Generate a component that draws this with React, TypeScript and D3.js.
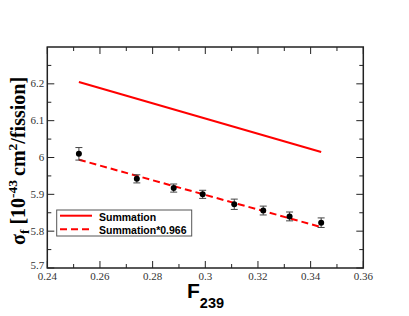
import React from "react";
import * as d3 from "d3";

const fractions = [0.252, 0.274, 0.288, 0.299, 0.311, 0.322, 0.332, 0.344];
const measured = [6.01, 5.942, 5.917, 5.9, 5.873, 5.856, 5.84, 5.823];
const errors = [0.017, 0.011, 0.011, 0.011, 0.014, 0.012, 0.012, 0.013];

const lineX = [0.252, 0.344];
const summation = [6.205, 6.015];
const summationScaled = [5.994, 5.811];

const xTicks = [0.24, 0.26, 0.28, 0.3, 0.32, 0.34, 0.36];
const xMinor = [0.25, 0.27, 0.29, 0.31, 0.33, 0.35];
const yTicks = [5.7, 5.8, 5.9, 6.0, 6.1, 6.2];
const yMinor = [5.75, 5.85, 5.95, 6.05, 6.15, 6.25];

const W = 409;
const H = 316;
const L = 47.3, R = 363.3, T = 47, B = 268;

export default function App() {
  const x = d3.scaleLinear().domain([0.24, 0.36]).range([L, R]);
  const y = d3.scaleLinear().domain([5.7, 6.3]).range([B, T]);
  const line = d3
    .line<[number, number]>()
    .x((d) => x(d[0]))
    .y((d) => y(d[1]));
  const sumPts = lineX.map((v, i) => [v, summation[i]] as [number, number]);
  const scaledPts = lineX.map((v, i) => [v, summationScaled[i]] as [number, number]);
  const fmt = (v: number) => {
    const s = d3.format(".2f")(v);
    return s.replace(/0$/, "").replace(/\.0$/, "");
  };
  const fmtY = (v: number) => {
    const s = d3.format(".1f")(v);
    return s.replace(/\.0$/, "");
  };
  const serif = "Liberation Serif";
  const sans = "Liberation Sans";
  const axisColor = "#222";
  return (
    <svg
      width={W}
      height={H}
      style={{ position: "absolute", left: 0, top: 0, background: "#fff" }}
    >
      <rect x={0} y={0} width={W} height={H} fill="#fff" />
      {/* ticks */}
      <g stroke={axisColor} strokeWidth={1}>
        {xTicks.map((t) => (
          <g key={"xt" + t}>
            <line x1={x(t)} x2={x(t)} y1={B} y2={B - 7} />
            <line x1={x(t)} x2={x(t)} y1={T} y2={T + 7} />
          </g>
        ))}
        {xMinor.map((t) => (
          <g key={"xm" + t}>
            <line x1={x(t)} x2={x(t)} y1={B} y2={B - 4} />
            <line x1={x(t)} x2={x(t)} y1={T} y2={T + 4} />
          </g>
        ))}
        {yTicks.map((t) => (
          <g key={"yt" + t}>
            <line x1={L} x2={L + 7} y1={y(t)} y2={y(t)} />
            <line x1={R} x2={R - 7} y1={y(t)} y2={y(t)} />
          </g>
        ))}
        {yMinor.map((t) => (
          <g key={"ym" + t}>
            <line x1={L} x2={L + 4} y1={y(t)} y2={y(t)} />
            <line x1={R} x2={R - 4} y1={y(t)} y2={y(t)} />
          </g>
        ))}
      </g>
      <rect
        x={L}
        y={T}
        width={R - L}
        height={B - T}
        fill="none"
        stroke={axisColor}
        strokeWidth={1.5}
      />
      {/* tick labels */}
      <g style={{ fontFamily: serif }} fontSize={11} fill="#333">
        {xTicks.map((t) => (
          <text key={"xl" + t} x={x(t)} y={B + 12} textAnchor="middle">
            {fmt(t)}
          </text>
        ))}
        {yTicks.map((t) => (
          <text
            key={"yl" + t}
            x={L - 3}
            y={y(t) + 3.5 - (t === 5.7 ? 3 : 0)}
            textAnchor="end"
          >
            {fmtY(t)}
          </text>
        ))}
      </g>
      {/* lines */}
      <path d={line(sumPts) || ""} fill="none" stroke="#ff0000" strokeWidth={2} />
      <path
        d={line(scaledPts) || ""}
        fill="none"
        stroke="#ff0000"
        strokeWidth={2}
        strokeDasharray="7,4"
      />
      {/* error bars */}
      <g stroke="#444" strokeWidth={1}>
        {fractions.map((f, i) => (
          <g key={"e" + i}>
            <line x1={x(f)} x2={x(f)} y1={y(measured[i] - errors[i])} y2={y(measured[i] + errors[i])} />
            <line x1={x(f) - 3.5} x2={x(f) + 3.5} y1={y(measured[i] - errors[i])} y2={y(measured[i] - errors[i])} />
            <line x1={x(f) - 3.5} x2={x(f) + 3.5} y1={y(measured[i] + errors[i])} y2={y(measured[i] + errors[i])} />
          </g>
        ))}
      </g>
      {fractions.map((f, i) => (
        <circle key={"p" + i} cx={x(f)} cy={y(measured[i])} r={3} fill="#000" />
      ))}
      {/* legend */}
      <rect x={56.7} y={210} width={135} height={26} fill="#fff" stroke="#555" strokeWidth={1} />
      <line x1={60} x2={92} y1={215.7} y2={215.7} stroke="#ff0000" strokeWidth={2} />
      <line x1={60} x2={92} y1={229.3} y2={229.3} stroke="#ff0000" strokeWidth={2} strokeDasharray="7,4" />
      <g style={{ fontFamily: sans }} fontWeight="bold" fontSize={10.5} fill="#000">
        <text x={99} y={220.5}>Summation</text>
        <text x={99} y={234}>Summation*0.966</text>
      </g>
      {/* x label */}
      <text x={187} y={298} style={{ fontFamily: sans }} fontWeight="bold" fontSize={21} fill="#000">
        F
        <tspan fontSize={14.5} dy={10}>239</tspan>
      </text>
      {/* y label */}
      <text
        transform="translate(25,245) rotate(-90)"
        style={{ fontFamily: serif }}
        fontWeight="bold"
        fontSize={20}
        fill="#000"
      >
        σ
        <tspan fontSize={13.5} dy={4}>f</tspan>
        <tspan dy={-4} dx={5}>[10</tspan>
        <tspan fontSize={13.5} dy={-8}>-43</tspan>
        <tspan dy={8} dx={4}>cm</tspan>
        <tspan fontSize={13.5} dy={-8}>2</tspan>
        <tspan dy={8}>/fission]</tspan>
      </text>
    </svg>
  );
}
